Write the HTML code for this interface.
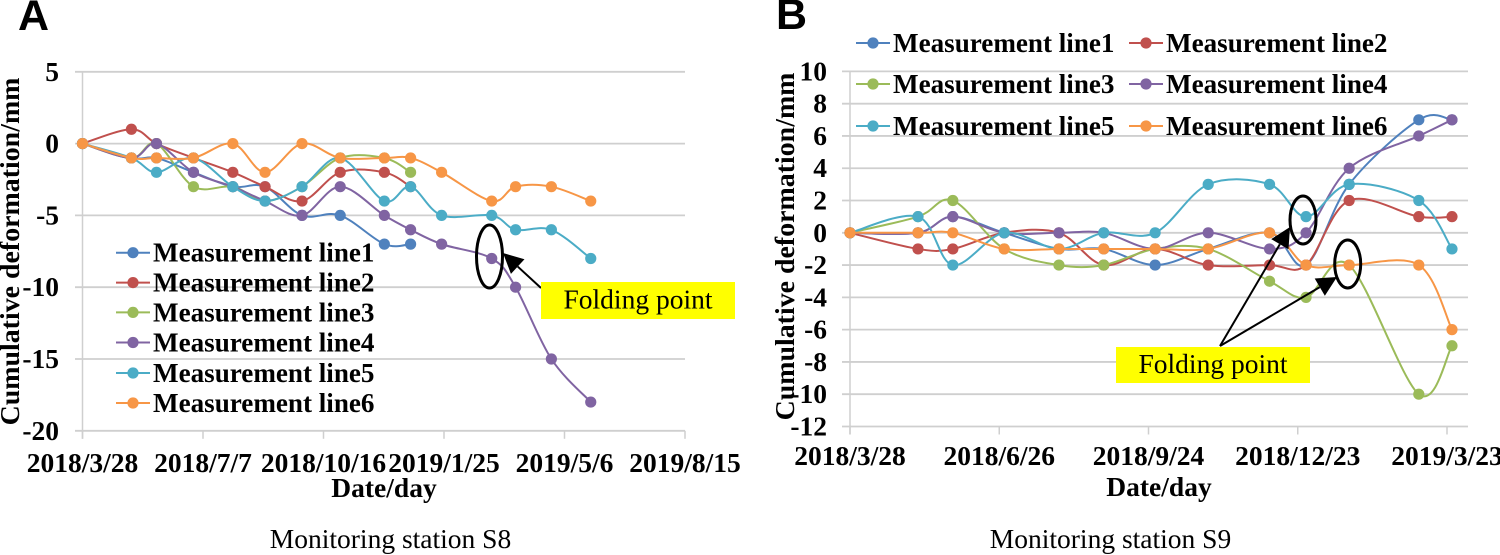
<!DOCTYPE html>
<html lang="en">
<head>
<meta charset="utf-8">
<title>Cumulative deformation at monitoring stations S8 and S9</title>
<style>
html,body{margin:0;padding:0;background:#fff;width:1500px;height:555px;overflow:hidden}
svg{display:block}
text{font-family:"Liberation Serif",serif;fill:#000}
.tick{font-size:27.5px;font-weight:700}
.ytitle{font-size:27.9px;font-weight:700}
.leg{font-size:27.1px;font-weight:700}
.cap{font-size:27.5px}
.note{font-size:27.5px}
.panel{font-family:"Liberation Sans",sans-serif;font-weight:700;font-size:43px}
</style>
</head>
<body>
<svg id="root" xmlns="http://www.w3.org/2000/svg" width="1500" height="555" viewBox="0 0 1500 555"></svg>
<script>
// ---------- shared data ----------
const seriesNames = ['Measurement line1','Measurement line2','Measurement line3','Measurement line4','Measurement line5','Measurement line6'];
const seriesKeys = ['line1','line2','line3','line4','line5','line6'];
const seriesColors = ['#4f81bd','#c0504d','#9bbb59','#8064a2','#4bacc6','#f79646'];

// ---------- panel A (station S8) ----------
const daysA = [0,41,62,93,126,153,184,216,253,275,301,343,363,393,426];
const a1 = [0,-1,-1,-2,-3,-3,-5,-5,-7,-7];
const a2 = [0,1,0,-1,-2,-3,-4,-2,-2,-3];
const a3 = [0,-1,0,-3,-3,-4,-3,-1,-1,-2];
const a4 = [0,-1,0,-2,-3,-4,-5,-3,-5,-6,-7,-8,-10,-15,-18];
const a5 = [0,-1,-2,-1,-3,-4,-3,-1,-4,-3,-5,-5,-6,-6,-8];
const a6 = [0,-1,-1,-1,0,-2,0,-1,-1,-1,-2,-4,-3,-3,-4];
const yTicksA = [5,0,-5,-10,-15,-20];
const xTickDaysA = [0,101,202,303,404,505];
const xLabelsA = ['2018/3/28','2018/7/7','2018/10/16','2019/1/25','2019/5/6','2019/8/15'];

// ---------- panel B (station S9) ----------
const daysB = [0,41,62,93,126,153,184,216,253,275,301,343,363];
const b1 = [0,0,1,0,-1,-1,-2,-1,0,-2,3,7,7];
const b2 = [0,-1,-1,0,0,-2,-1,-2,-2,-2,2,1,1];
const b3 = [0,1,2,-1,-2,-2,-1,-1,-3,-4,-2,-10,-7];
const b4 = [0,0,1,0,0,0,-1,0,-1,0,4,6,7];
const b5 = [0,1,-2,0,-1,0,0,3,3,1,3,2,-1];
const b6 = [0,0,0,-1,-1,-1,-1,-1,0,-2,-2,-2,-6];
const yTicksB = [10,8,6,4,2,0,-2,-4,-6,-8,-10,-12];
const xTickDaysB = [0,90,180,270,360];
const xLabelsB = ['2018/3/28','2018/6/26','2018/9/24','2018/12/23','2019/3/23'];

// ---------- axis functions ----------
const xA = d => 82.5 + d * (602.5 / 505);
const yA = v => 143.6 - v * 14.36;
const xB = d => 850 + d * (597 / 360);
const yB = v => 232.8 - v * 16.14;

const NS = 'http://www.w3.org/2000/svg';
const root = document.getElementById('root');
function make(tag, attrs, parent, txt){
  const e = document.createElementNS(NS, tag);
  for (const k in attrs) e.setAttribute(k, attrs[k]);
  if (txt !== undefined) e.textContent = txt;
  (parent || root).appendChild(e);
  return e;
}
function smooth(pts){
  let d = 'M' + pts[0][0].toFixed(2) + ' ' + pts[0][1].toFixed(2);
  for (let i = 0; i < pts.length - 1; i++){
    const p0 = pts[Math.max(0, i - 1)], p1 = pts[i], p2 = pts[i + 1], p3 = pts[Math.min(pts.length - 1, i + 2)];
    const c1x = p1[0] + (p2[0] - p0[0]) / 6, c1y = p1[1] + (p2[1] - p0[1]) / 6;
    const c2x = p2[0] - (p3[0] - p1[0]) / 6, c2y = p2[1] - (p3[1] - p1[1]) / 6;
    d += ' C' + [c1x, c1y, c2x, c2y, p2[0], p2[1]].map(n => n.toFixed(2)).join(' ');
  }
  return d;
}
function drawAxes(g, cfg){
  cfg.yTicks.forEach(v => {
    const line = make('line', {x1: cfg.gridX0, x2: cfg.gridX1, y1: cfg.y(v), y2: cfg.y(v), stroke: '#cfcfcf', 'stroke-width': 1.8}, g);
    
    
    const t = make('text', {x: cfg.yLabelX, y: cfg.y(v) + 9, 'text-anchor': 'end', class: 'tick'}, g, String(v));
    
    
  });
  const yBottom = cfg.y(cfg.yTicks[cfg.yTicks.length - 1]);
  const axis = make('line', {x1: cfg.x(0), x2: cfg.x(0), y1: cfg.y(cfg.yTicks[0]), y2: yBottom + 8, stroke: '#cfcfcf', 'stroke-width': 1.5}, g);
  
  
  cfg.xTicks.forEach((d, i) => {
    const tk = make('line', {x1: cfg.x(d), x2: cfg.x(d), y1: yBottom, y2: yBottom + 8, stroke: '#cfcfcf', 'stroke-width': 1.5}, g);
    
    
    const t = make('text', {x: cfg.x(d), y: cfg.xLabelY, 'text-anchor': 'middle', class: 'tick'}, g, cfg.xLabels[i]);
    
    
  });
}
function drawSeries(g, days, values, color, key, x, y){
  const pts = [];
  values.forEach((v, i) => { if (v !== null) pts.push([x(days[i]), y(v)]); });
  const s = make('g', {}, g);
  
  
  const p = make('path', {d: smooth(pts), fill: 'none', stroke: color, 'stroke-width': 2}, s);
  
  
  pts.forEach(q => {
    const c = make('circle', {cx: q[0], cy: q[1], r: 5.6, fill: color}, s);
    
    
  });
}
function legendEntry(g, lx, y, i){
  const e = make('g', {}, g);
  
  
  const l = make('line', {x1: lx, x2: lx + 34, y1: y, y2: y, stroke: seriesColors[i], 'stroke-width': 2}, e);
  
  
  const c = make('circle', {cx: lx + 17, cy: y, r: 5.6, fill: seriesColors[i]}, e);
  
  
  const t = make('text', {x: lx + 37, y: y + 9, class: 'leg'}, e, seriesNames[i]);
  
  
}
function callout(g, x0, y0, x1, y1){
  const dx = x1 - x0, dy = y1 - y0, len = Math.hypot(dx, dy), ux = dx / len, uy = dy / len;
  const bx = x1 - ux * 20, by = y1 - uy * 20;
  const l = make('line', {x1: x0, y1: y0, x2: bx, y2: by, stroke: '#000', 'stroke-width': 2}, g);
  
  
  const h = make('polygon', {points: [x1, y1, bx - uy * 10, by + ux * 10, bx + uy * 10, by - ux * 10].join(' '), fill: '#000'}, g);
  
  
}
function ring(g, cx, cy, rx, ry){
  const e = make('ellipse', {cx: cx, cy: cy, rx: rx, ry: ry, fill: 'none', stroke: '#000', 'stroke-width': 3}, g);
  
  
}
function noteBox(g, x, y, w, h){
  const r = make('rect', {x: x, y: y, width: w, height: h, fill: '#ffff00'}, g);
  
  
  const t = make('text', {x: x + w / 2, y: y + h / 2 + 8, 'text-anchor': 'middle', class: 'note'}, g, 'Folding point');
  
  
}

// ---------- panel A ----------
const gA = make('g', {});


drawAxes(gA, {x: xA, y: yA, yTicks: yTicksA, xTicks: xTickDaysA, xLabels: xLabelsA, gridX0: 75, gridX1: 685, yLabelX: 59, xLabelY: 472});
[a1, a2, a3, a4, a5, a6].forEach((v, i) => drawSeries(gA, daysA, v, seriesColors[i], seriesKeys[i], xA, yA));
[252.7, 282.6, 312.4, 342.5, 373, 403].forEach((y, i) => legendEntry(gA, 116, y, i));
ring(gA, 489.5, 256.5, 13, 31.5);
callout(gA, 541, 288, 503, 253);
noteBox(gA, 541, 282, 194, 37);

const labelA = make('text', {x: 18, y: 30, class: 'panel'}, gA, 'A');


const yTitleA = make('text', {transform: 'translate(19,251.5) rotate(-90)', 'text-anchor': 'middle', class: 'ytitle'}, gA, 'Cumulative deformation/mm');


const xTitleA = make('text', {x: 384, y: 497, 'text-anchor': 'middle', class: 'tick'}, gA, 'Date/day');


const capA = make('text', {x: 390.5, y: 548, 'text-anchor': 'middle', class: 'cap'}, gA, 'Monitoring station S8');



// ---------- panel B ----------
const gB = make('g', {});


drawAxes(gB, {x: xB, y: yB, yTicks: yTicksB, xTicks: xTickDaysB, xLabels: xLabelsB, gridX0: 842, gridX1: 1468, yLabelX: 827, xLabelY: 465});
[b1, b2, b3, b4, b5, b6].forEach((v, i) => drawSeries(gB, daysB, v, seriesColors[i], seriesKeys[i], xB, yB));
[[856, 43], [1129, 43], [856, 84], [1129, 84], [856, 126], [1129, 126]].forEach((p, i) => legendEntry(gB, p[0], p[1], i));
ring(gB, 1303, 220, 13, 24);
ring(gB, 1347.7, 264, 13, 24);
callout(gB, 1220, 346, 1290, 227);
callout(gB, 1220, 346, 1337, 277);
noteBox(gB, 1116, 347, 194, 36);

const labelB = make('text', {x: 776, y: 29, class: 'panel'}, gB, 'B');


const yTitleB = make('text', {transform: 'translate(794,246.5) rotate(-90)', 'text-anchor': 'middle', class: 'ytitle'}, gB, 'Cumulative deformation/mm');


const xTitleB = make('text', {x: 1159, y: 496, 'text-anchor': 'middle', class: 'tick'}, gB, 'Date/day');


const capB = make('text', {x: 1110.5, y: 548, 'text-anchor': 'middle', class: 'cap'}, gB, 'Monitoring station S9');


</script>
</body>
</html>
